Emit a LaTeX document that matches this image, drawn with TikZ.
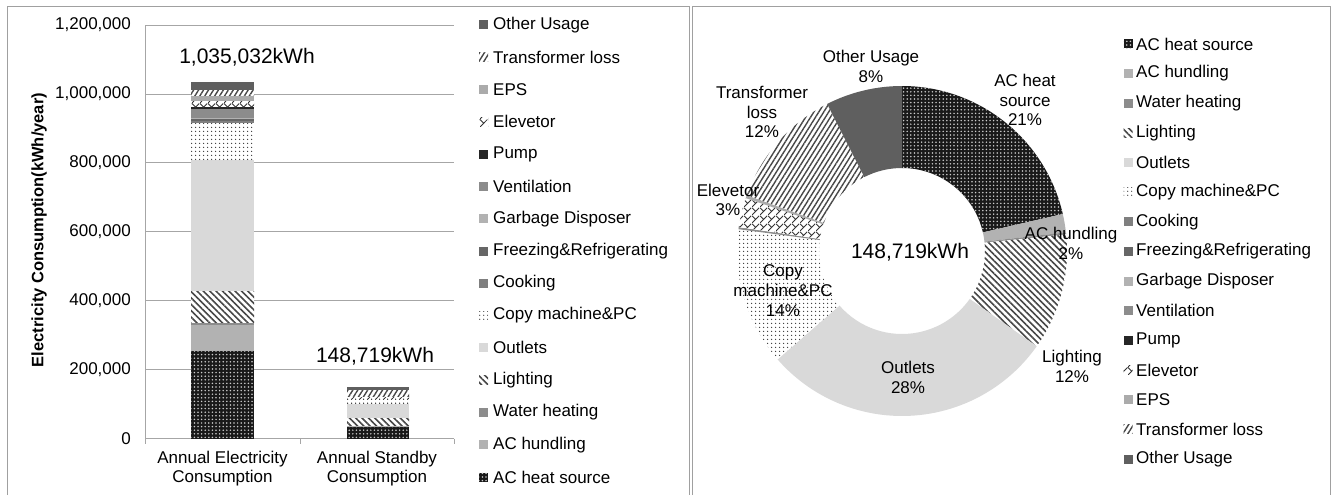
\documentclass[tikz,border=0pt]{standalone}
\usepackage{fontspec}
\setmainfont{Liberation Sans}
\usetikzlibrary{patterns.meta,calc}
\definecolor{frameg}{HTML}{A0A0A0}
\definecolor{gridg}{HTML}{A6A6A6}
\definecolor{cother}{HTML}{5F5F5F}
\definecolor{ceps}{HTML}{ABABAB}
\definecolor{cpump}{HTML}{262626}
\definecolor{cvent}{HTML}{8C8C8C}
\definecolor{cgarb}{HTML}{B2B2B2}
\definecolor{cfreeze}{HTML}{666666}
\definecolor{ccook}{HTML}{7F7F7F}
\definecolor{coutlet}{HTML}{D9D9D9}
\definecolor{cwater}{HTML}{8C8C8C}
\definecolor{chundl}{HTML}{B2B2B2}
\pgfdeclarepatternformonly{elevpat}{\pgfqpoint{0pt}{0pt}}{\pgfqpoint{8pt}{8pt}}{\pgfqpoint{8pt}{8pt}}{%
  \pgfsetlinewidth{0.9pt}%
  \pgfpathmoveto{\pgfqpoint{0pt}{0pt}}\pgfpathlineto{\pgfqpoint{8pt}{8pt}}%
  \pgfpathmoveto{\pgfqpoint{0pt}{8pt}}\pgfpathlineto{\pgfqpoint{4pt}{4pt}}%
  \pgfusepath{stroke}}
\tikzset{
  sHeat/.style={preaction={fill=black!90}, pattern={Dots[distance=3.6pt,radius=0.85pt]}, pattern color=white!80!black},
  sCopy/.style={preaction={fill=white}, pattern={Dots[distance=4pt,radius=0.8pt]}, pattern color=black!80},
  sLight/.style={preaction={fill=white}, pattern={Lines[angle=-45,distance=4.5pt,line width=1.6pt]}, pattern color=black!72},
  sTrans/.style={preaction={fill=white}, pattern={Lines[angle=58,distance=4.2pt,line width=1.4pt]}, pattern color=black!72},
  sElev/.style={preaction={fill=white}, pattern=elevpat, pattern color=black!80},
  sOther/.style={fill=cother}, sEps/.style={fill=ceps}, sPump/.style={fill=cpump},
  sVent/.style={fill=cvent}, sGarb/.style={fill=cgarb}, sFreeze/.style={fill=cfreeze},
  sCook/.style={fill=ccook}, sOutlet/.style={fill=coutlet}, sWater/.style={fill=cwater},
  sHundl/.style={fill=chundl},
  lab/.style={font=\fontsize{17}{19.8}\selectfont, align=center, inner sep=0pt},
  big/.style={font=\fontsize{21}{24}\selectfont, inner sep=0pt},
  leg/.style={font=\fontsize{17}{19}\selectfont, anchor=west, inner sep=0pt},
  tick/.style={font=\fontsize{17}{19}\selectfont, anchor=east, inner sep=0pt},
  mk/.style={minimum width=9pt, minimum height=9pt, inner sep=0pt, draw=none},
  grid/.style={draw=gridg, line width=0.9pt}
}
\newcommand\legL[4]{\node[mk,#3] (#1m) at (483.5,#2) {}; \node[leg] (#1) at (493,#2) {#4};}
\newcommand\legR[4]{\node[mk,#3] (#1m) at (1128,#2) {}; \node[leg] (#1) at (1136,#2) {#4};}
\newcommand\bseg[5]{\fill[#5] (#1,#3) rectangle (#2,#4);}
\newcommand\dseg[3]{\fill[#3] ($(C)+(#1:165)$) arc[start angle=#1,end angle=#2,radius=165] -- ($(C)+(#2:83)$) arc[start angle=#2,end angle=#1,radius=83] -- cycle;}
\begin{document}
\begin{tikzpicture}[x=1pt,y=-1pt]
\useasboundingbox (0,0) rectangle (1335,495);
\fill[white] (0,0) rectangle (1335,495);
% panel frames
\draw[frameg, line width=1pt] (7,495) -- (7,7) -- (689,7) -- (689,495);
\draw[frameg, line width=1pt] (692,495) -- (692,7) -- (1330,7) -- (1330,495);
% ===== bar chart =====
\foreach \v/\t in {1/200{,}000, 2/400{,}000, 3/600{,}000, 4/800{,}000, 5/1{,}000{,}000, 6/1{,}200{,}000} {
  \draw[grid] (145,438.5-68.9*\v) -- (454,438.5-68.9*\v);
  \node[tick] at (131,438.5-68.9*\v) {\t};
}
\node[tick] (t0) at (131,438.5) {0};
\draw[grid] (145,25.1) -- (145,438.5);
\draw[grid] (145,438.5) -- (454,438.5);
\foreach \x in {145,300,454} \draw[grid] (\x,438.5) -- (\x,444);
% bar 1
\bseg{191}{254}{438.5}{351}{sHeat}
\bseg{191}{254}{351}{325}{sHundl}
\bseg{191}{254}{325}{322.7}{sWater}
\bseg{191}{254}{322.7}{291}{sLight}
\bseg{191}{254}{291}{160}{sOutlet}
\bseg{191}{254}{160}{123}{sCopy}
\bseg{191}{254}{123}{121}{sCook}
\bseg{191}{254}{121}{118.5}{sFreeze}
\bseg{191}{254}{118.5}{117.5}{sGarb}
\bseg{191}{254}{117.5}{108.7}{sVent}
\bseg{191}{254}{108.7}{107.3}{sPump}
\bseg{191}{254}{107.3}{101}{sElev}
\bseg{191}{254}{101}{95.7}{sEps}
\bseg{191}{254}{95.7}{90}{sTrans}
\bseg{191}{254}{90}{81.5}{sOther}
% bar 2
\bseg{347}{409}{438.5}{426.5}{sHeat}
\bseg{347}{409}{426.5}{425.5}{sHundl}
\bseg{347}{409}{425.5}{418}{sLight}
\bseg{347}{409}{418}{404}{sOutlet}
\bseg{347}{409}{404}{398}{sCopy}
\bseg{347}{409}{398}{396.5}{sElev}
\bseg{347}{409}{396.5}{390}{sTrans}
\bseg{347}{409}{390}{386.5}{sOther}
\node[big] (tot1) at (247,57) {1,035,032kWh};
\node[big] (tot2) at (375,356) {148,719kWh};
\node[font=\fontsize{16.5}{19}\bfseries, rotate=90, inner sep=0pt] (ytitle) at (39,230) {Electricity Consumption(kWh/year)};
\node[lab] (cat1) at (222.5,468.5) {Annual Electricity\\Consumption};
\node[lab] (cat2) at (377,468.5) {Annual Standby\\Consumption};
% left legend
\legL{l1}{25}{sOther}{Other Usage}
\legL{l2}{57.3}{sTrans}{Transformer loss}
\legL{l3}{89.6}{sEps}{EPS}
\legL{l4}{121.9}{sElev}{Elevetor}
\legL{l5}{154.2}{sPump}{Pump}
\legL{l6}{186.5}{sVent}{Ventilation}
\legL{l7}{218.7}{sGarb}{Garbage Disposer}
\legL{l8}{251}{sFreeze}{Freezing\&Refrigerating}
\legL{l9}{283.3}{sCook}{Cooking}
\legL{l10}{315.6}{sCopy}{Copy machine\&PC}
\legL{l11}{347.9}{sOutlet}{Outlets}
\legL{l12}{380.2}{sLight}{Lighting}
\legL{l13}{412.5}{sWater}{Water heating}
\legL{l14}{444.7}{sHundl}{AC hundling}
\legL{l15}{477}{sHeat}{AC heat source}
% ===== donut =====
\coordinate (C) at (902,251);
\dseg{-90}{-12.96}{sHeat}
\dseg{-12.96}{-6.48}{sHundl}
\dseg{-6.48}{-5.76}{sWater}
\dseg{-5.76}{35.28}{sLight}
\dseg{35.28}{138.96}{sOutlet}
\dseg{138.96}{187.6}{sCopy}
\dseg{187.6}{188.3}{sVent}
\dseg{188.3}{198.7}{sElev}
\dseg{198.7}{199.8}{sEps}
\dseg{199.8}{243}{sTrans}
\dseg{243}{270}{sOther}
\node[lab] (pOther) at (871,66.5) {Other Usage\\8\%};
\node[lab] (pTrans) at (762,112) {Transformer\\loss\\12\%};
\node[lab] (pElev) at (728,200) {Elevetor\\3\%};
\node[lab] (pHeat) at (1025,100) {AC heat\\source\\21\%};
\node[lab] (pHundl) at (1071,243) {AC hundling\\2\%};
\node[lab] (pLight) at (1072,366.5) {Lighting\\12\%};
\node[lab] (pOutlet) at (908,377.5) {Outlets\\28\%};
\node[lab] (pCopy) at (783,290.5) {Copy\\machine\&PC\\14\%};
\node[big] (ptot) at (910,252) {148,719kWh};
% right legend
\legR{r1}{44}{sHeat}{AC heat source}
\legR{r2}{73.6}{sHundl}{AC hundling}
\legR{r3}{103.3}{sWater}{Water heating}
\legR{r4}{132.9}{sLight}{Lighting}
\legR{r5}{162.6}{sOutlet}{Outlets}
\legR{r6}{192.2}{sCopy}{Copy machine\&PC}
\legR{r7}{221.8}{sCook}{Cooking}
\legR{r8}{251.5}{sFreeze}{Freezing\&Refrigerating}
\legR{r9}{281.1}{sGarb}{Garbage Disposer}
\legR{r10}{310.8}{sVent}{Ventilation}
\legR{r11}{340.4}{sPump}{Pump}
\legR{r12}{370}{sElev}{Elevetor}
\legR{r13}{399.7}{sEps}{EPS}
\legR{r14}{429.3}{sTrans}{Transformer loss}
\legR{r15}{459}{sOther}{Other Usage}
\end{tikzpicture}
\end{document}
